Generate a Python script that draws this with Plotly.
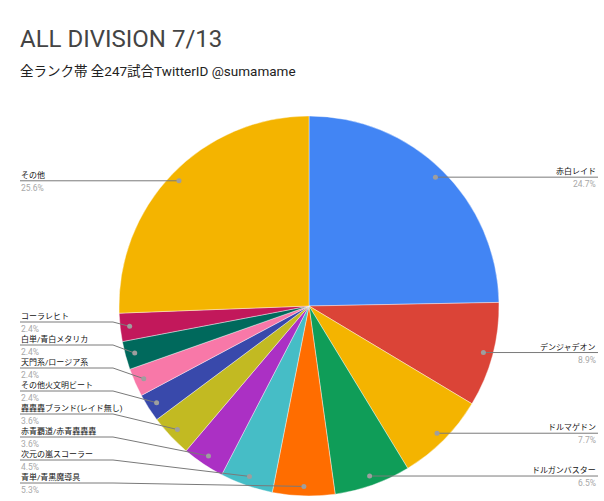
import math
import plotly.graph_objects as go

labels = ["赤白レイド", "デンジャデオン", "ドルマゲドン", "ドルガンバスター", "青単/青黒魔導具",
          "次元の嵐スコーラー", "赤青覇道/赤青轟轟轟", "轟轟轟ブランド(レイド無し)", "その他火文明ビート",
          "天門系/ロージア系", "白単/青白メタリカ", "コーラレヒト", "その他"]
values = [24.7, 8.9, 7.7, 6.5, 5.3, 4.5, 3.6, 3.6, 2.4, 2.4, 2.4, 2.4, 25.6]
colors = ["#4285F4", "#DB4437", "#F4B400", "#0F9D58", "#FF6D00", "#46BDC6", "#AB30C4",
          "#C2BA22", "#3949AB", "#F878A8", "#00695C", "#C2185B", "#F4B400"]

W, H = 604, 501
CX, CY, R = 309, 306, 190
FONT = "Roboto, 'Noto Sans CJK JP', sans-serif"

def px(x):
    return x / W

def py(y):
    return 1 - y / H

fig = go.Figure(go.Pie(
    labels=labels, values=values, sort=False, direction="clockwise", rotation=0,
    marker=dict(colors=colors, line=dict(color="white", width=0.4)),
    textinfo="none", hoverinfo="label+percent", showlegend=False,
    domain=dict(x=[px(CX - R), px(CX + R)], y=[py(CY + R), py(CY - R)]),
))

total = sum(values)
cum = 0.0
items = []
for lab, v in zip(labels, values):
    th = 2 * math.pi * (cum + v / 2) / total
    cum += v
    dx = CX + 0.95 * R * math.sin(th)
    dy = CY - 0.95 * R * math.cos(th)
    items.append(dict(label=lab, pct=v, x=dx, y=dy, right=math.sin(th) >= 0))

# dodge label rows on each side
GAP, YMAX = 23, 483
for side in (True, False):
    grp = sorted([it for it in items if it["right"] == side], key=lambda d: -d["y"])
    prev = None
    for it in grp:
        ly = min(it["y"], YMAX)
        if prev is not None:
            ly = min(ly, prev - GAP)
        it["ly"] = ly
        prev = ly

shapes, annotations = [], []
LINE = dict(color="#7a7a7a", width=1)
for it in items:
    if it["right"]:
        xe, xt, ex, anchor = 598, 597, W - 113, "right"
    else:
        xe, xt, ex, anchor = 20, 20, 113, "left"
    if abs(it["ly"] - it["y"]) < 0.5:
        shapes.append(dict(type="line", xref="paper", yref="paper", x0=px(xe), y0=py(it["ly"]),
                           x1=px(it["x"]), y1=py(it["y"]), line=LINE))
    else:
        shapes.append(dict(type="line", xref="paper", yref="paper", x0=px(xe), y0=py(it["ly"]),
                           x1=px(ex), y1=py(it["ly"]), line=LINE))
        shapes.append(dict(type="line", xref="paper", yref="paper", x0=px(ex), y0=py(it["ly"]),
                           x1=px(it["x"]), y1=py(it["y"]), line=LINE))
    shapes.append(dict(type="circle", xref="paper", yref="paper", xsizemode="pixel", ysizemode="pixel",
                       xanchor=px(it["x"]), yanchor=py(it["y"]), x0=-2.5, x1=2.5, y0=-2.5, y1=2.5,
                       fillcolor="#9e9e9e", line=dict(width=0)))
    annotations.append(dict(xref="paper", yref="paper", x=px(xt), y=py(it["ly"] - 6), xanchor=anchor,
                            yanchor="middle", text=it["label"], showarrow=False, borderpad=0,
                            font=dict(family=FONT, size=8, color="#111111")))
    annotations.append(dict(xref="paper", yref="paper", x=px(xt), y=py(it["ly"] + 7), xanchor=anchor,
                            yanchor="middle", text=f"{it['pct']:.1f}%", showarrow=False, borderpad=0,
                            font=dict(family=FONT, size=8.5, color="#a8a8a8")))

annotations.append(dict(xref="paper", yref="paper", x=px(19), y=py(39.5), xanchor="left", yanchor="middle",
                        text="ALL DIVISION 7/13", showarrow=False, borderpad=0,
                        font=dict(family=FONT, size=24, color="#444444")))
annotations.append(dict(xref="paper", yref="paper", x=px(19), y=py(71), xanchor="left", yanchor="middle",
                        text="全ランク帯 全247試合TwitterID @sumamame", showarrow=False, borderpad=0,
                        font=dict(family=FONT, size=13.5, color="#222222")))

fig.update_layout(width=W, height=H, margin=dict(l=0, r=0, t=0, b=0),
                  paper_bgcolor="white", plot_bgcolor="white",
                  shapes=shapes, annotations=annotations)
fig.write_html("out.html")
